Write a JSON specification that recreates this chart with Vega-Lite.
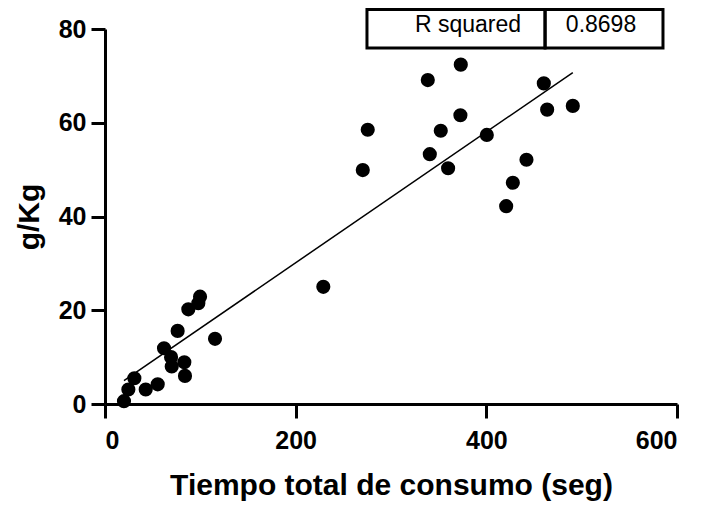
{
  "$schema": "https://vega.github.io/schema/vega-lite/v6.json",
  "width": 572,
  "height": 375,
  "autosize": {"type": "none"},
  "padding": {"left": 105, "top": 29, "right": 25, "bottom": 102},
  "background": "white",
  "config": {
    "view": {"stroke": null},
    "font": "Liberation Sans",
    "axis": {
      "grid": false,
      "domainColor": "black",
      "domainWidth": 3,
      "tickColor": "black",
      "tickWidth": 3,
      "tickSize": 14,
      "labelFont": "Liberation Sans",
      "labelFontSize": 25,
      "labelFontWeight": "bold",
      "labelColor": "black",
      "titleFont": "Liberation Sans",
      "titleFontSize": 30,
      "titleFontWeight": "bold",
      "titleColor": "black"
    }
  },
  "layer": [
    {
      "data": {"values": [{"t": 19.9, "g": 5.0}, {"t": 490.7, "g": 70.7}]},
      "mark": {"type": "line", "color": "black", "strokeWidth": 1.5},
      "encoding": {
        "x": {"field": "t", "type": "quantitative", "scale": {"domain": [0, 600], "nice": false}, "axis": {"values": [0, 200, 400, 600], "title": "Tiempo total de consumo (seg)", "labelPadding": 10, "titlePadding": 17}},
        "y": {"field": "g", "type": "quantitative", "scale": {"domain": [0, 80], "nice": false}, "axis": {"values": [0, 20, 40, 60, 80], "title": "g/Kg", "labelPadding": 5, "titlePadding": 14}}
      }
    },
    {
      "data": {"values": [
        {"t": 19.9, "g": 0.6}, {"t": 24.5, "g": 3.1}, {"t": 30.8, "g": 5.5}, {"t": 42.7, "g": 3.1},
        {"t": 55.3, "g": 4.2}, {"t": 61.9, "g": 11.9}, {"t": 69.3, "g": 10.0}, {"t": 70.0, "g": 8.0},
        {"t": 76.2, "g": 15.6}, {"t": 83.2, "g": 8.9}, {"t": 83.9, "g": 6.0}, {"t": 87.4, "g": 20.2},
        {"t": 97.9, "g": 21.5}, {"t": 99.7, "g": 22.9}, {"t": 115.4, "g": 13.9}, {"t": 229.0, "g": 25.0},
        {"t": 270.4, "g": 49.9}, {"t": 275.6, "g": 58.5}, {"t": 338.6, "g": 69.1}, {"t": 340.7, "g": 53.3},
        {"t": 352.2, "g": 58.3}, {"t": 359.9, "g": 50.3}, {"t": 372.8, "g": 61.6}, {"t": 373.2, "g": 72.4},
        {"t": 400.5, "g": 57.4}, {"t": 420.8, "g": 42.2}, {"t": 427.8, "g": 47.2}, {"t": 442.1, "g": 52.1},
        {"t": 460.3, "g": 68.4}, {"t": 463.8, "g": 62.8}, {"t": 490.7, "g": 63.6}
      ]},
      "mark": {"type": "circle", "color": "black", "opacity": 1, "size": 200},
      "encoding": {
        "x": {"field": "t", "type": "quantitative", "scale": {"domain": [0, 600], "nice": false}, "axis": {"values": [0, 200, 400, 600], "title": "Tiempo total de consumo (seg)", "labelPadding": 10, "titlePadding": 17}},
        "y": {"field": "g", "type": "quantitative", "scale": {"domain": [0, 80], "nice": false}, "axis": {"values": [0, 20, 40, 60, 80], "title": "g/Kg", "labelPadding": 5, "titlePadding": 14}}
      }
    },
    {
      "data": {"values": [
        {"a": 274.8, "b": 461.6, "c": 75.95, "d": 84.16},
        {"a": 461.6, "b": 585.3, "c": 75.95, "d": 84.16}
      ]},
      "mark": {"type": "rect", "fill": null, "fillOpacity": 0, "stroke": "black", "strokeWidth": 3},
      "encoding": {
        "x": {"field": "a", "type": "quantitative", "scale": {"domain": [0, 600], "nice": false}, "title": "Tiempo total de consumo (seg)"},
        "x2": {"field": "b"},
        "y": {"field": "c", "type": "quantitative", "scale": {"domain": [0, 80], "nice": false}, "title": "g/Kg"},
        "y2": {"field": "d"}
      }
    },
    {
      "data": {"values": [
        {"tx": 380.8, "ty": 79.4, "label": "R squared"},
        {"tx": 520.3, "ty": 79.4, "label": "0.8698"}
      ]},
      "mark": {"type": "text", "font": "Liberation Sans", "fontSize": 23, "color": "black", "align": "center", "baseline": "alphabetic"},
      "encoding": {
        "x": {"field": "tx", "type": "quantitative", "scale": {"domain": [0, 600], "nice": false}, "title": "Tiempo total de consumo (seg)"},
        "y": {"field": "ty", "type": "quantitative", "scale": {"domain": [0, 80], "nice": false}, "title": "g/Kg"},
        "text": {"field": "label"}
      }
    }
  ]
}
